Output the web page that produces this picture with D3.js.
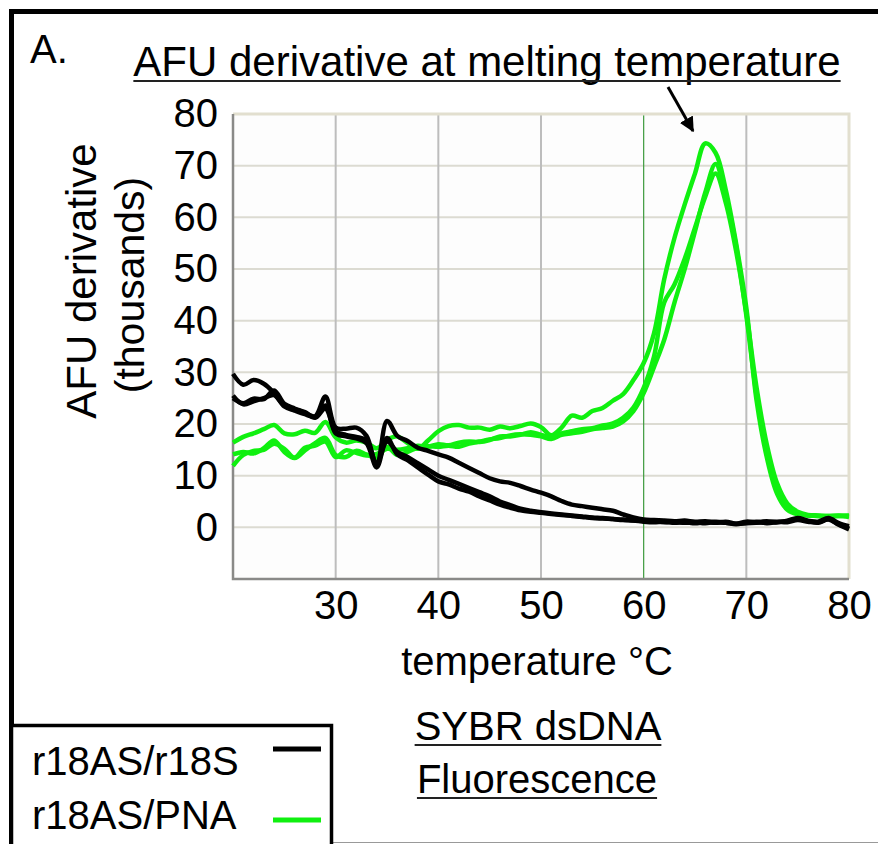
<!DOCTYPE html>
<html>
<head>
<meta charset="utf-8">
<script src="https://cdn.jsdelivr.net/npm/d3@7"></script>
<style>
  body { margin: 0; background: #fff; }
  text { font-family: "Liberation Sans", Arial, sans-serif; fill: #000; }
</style>
</head>
<body>
<div id="chart"></div>
<script>
// temperature samples (°C) shared by every trace
const temps = [20, 21, 22, 23, 24, 25, 26, 27, 28, 29, 30, 31, 32, 33, 34, 35, 36, 37, 38, 39,
  40, 41, 42, 43, 44, 45, 46, 47, 48, 49, 50, 51, 52, 53, 54, 55, 56, 57, 58, 59,
  60, 61, 62, 63, 64, 65, 66, 67, 68, 69, 70, 71, 72, 73, 74, 75, 76, 77, 78, 79, 80];

// r18AS/r18S (black) traces, AFU derivative in thousands
const r18S_1 = [29.7, 27.6, 28.5, 27.8, 26.0, 23.6, 22.9, 22.2, 21.5, 25.3, 19.3, 19.1, 19.3, 17.7, 11.9, 20.6, 17.7, 16.7, 15.4, 14.8,
  14.1, 13.5, 12.5, 11.5, 10.5, 9.5, 8.9, 8.6, 8.0, 7.3, 6.7, 6.0, 5.1, 4.4, 4.1, 3.8, 3.5, 3.2, 2.5, 1.9,
  1.5, 1.4, 1.3, 1.2, 1.3, 1.1, 1.2, 1.0, 0.9, 0.7, 1.1, 1.0, 1.2, 1.0, 1.3, 1.8, 1.3, 1.1, 1.8, 0.8, 0.2];
const r18S_2 = [25.5, 23.8, 24.4, 25.0, 25.6, 23.4, 22.6, 21.9, 21.4, 23.6, 18.2, 17.6, 17.2, 16.3, 11.6, 17.3, 14.1, 13.0, 11.6, 10.2,
  8.9, 8.3, 7.5, 6.9, 6.0, 5.2, 4.4, 3.8, 3.3, 3.0, 2.8, 2.6, 2.4, 2.2, 2.0, 1.8, 1.7, 1.6, 1.5, 1.3,
  1.2, 1.2, 1.0, 1.1, 0.9, 1.0, 0.8, 1.1, 0.9, 0.6, 0.9, 1.1, 0.8, 1.0, 1.2, 1.6, 1.2, 1.0, 1.6, 0.6, -0.2];
const r18S_3 = [25.0, 24.0, 24.9, 24.8, 26.5, 23.9, 23.0, 22.3, 21.2, 23.0, 18.6, 17.9, 17.5, 16.8, 12.4, 16.6, 14.6, 13.6, 12.4, 11.2,
  10.0, 9.2, 8.4, 7.6, 6.8, 6.0, 5.0, 4.3, 3.6, 3.2, 2.9, 2.7, 2.5, 2.3, 2.1, 1.9, 1.8, 1.6, 1.4, 1.3,
  1.1, 1.0, 1.1, 0.9, 1.0, 0.8, 1.0, 0.9, 1.1, 0.7, 0.8, 0.9, 1.0, 1.1, 1.0, 1.4, 1.1, 0.9, 1.5, 0.5, -0.4];

// r18AS/PNA (green) traces
const pna_1 = [16.4, 17.5, 18.2, 19.0, 19.8, 18.2, 18.0, 18.7, 18.3, 20.4, 17.4, 16.4, 16.8, 16.4, 15.3, 16.9, 17.6, 16.3, 15.2, 16.8,
  18.6, 19.6, 19.8, 19.3, 19.3, 18.9, 19.5, 19.2, 19.6, 20.1, 19.4, 17.8, 19.3, 21.6, 21.2, 22.5, 23.1, 24.5, 25.8, 28.5,
  31.8, 37.5, 48.0, 56.0, 62.5, 68.5, 74.3, 72.5, 65.3, 55.0, 42.5, 24.5, 13.5, 6.5, 3.4, 2.5, 2.3, 2.2, 2.2, 2.3, 2.2];
const pna_2 = [14.1, 14.6, 14.3, 15.3, 16.8, 14.6, 13.4, 14.9, 16.3, 17.3, 14.0, 13.6, 14.8, 14.1, 13.4, 15.6, 14.0, 14.6, 15.4, 15.7,
  15.6, 15.8, 15.6, 16.2, 16.6, 17.0, 17.3, 17.8, 18.0, 17.9, 17.6, 17.1, 17.9, 18.2, 18.5, 19.0, 19.2, 19.5, 20.5, 22.5,
  26.0, 31.0, 36.3, 43.5, 50.0, 57.3, 64.8, 70.3, 64.0, 54.5, 41.0, 25.5, 14.5, 7.5, 4.0, 2.7, 2.3, 2.2, 2.1, 2.2, 2.0];
const pna_3 = [11.9, 14.0, 14.8, 15.0, 16.2, 15.2, 13.5, 15.4, 15.8, 16.6, 13.6, 14.9, 14.4, 13.9, 14.2, 15.2, 15.0, 15.3, 15.8, 15.6,
  16.1, 15.9, 16.4, 16.6, 16.5, 16.9, 17.6, 17.6, 17.9, 18.4, 17.9, 17.5, 18.2, 18.6, 19.0, 19.2, 19.7, 20.1, 21.2, 23.2,
  27.0, 33.0, 43.5, 47.0, 52.0, 58.0, 64.0, 68.5, 62.8, 53.5, 41.5, 27.0, 16.0, 8.5, 4.6, 3.0, 2.4, 2.3, 2.2, 2.2, 2.3];

const xTicks = [30, 40, 50, 60, 70, 80];
const yTicks = [0, 10, 20, 30, 40, 50, 60, 70, 80];
const markerTemp = 60;

const W = 878, H = 844;
const plot = { left: 233, right: 849, top: 114, bottom: 579 };

const svg = d3.select("#chart").append("svg")
  .attr("width", W).attr("height", H);

// outer frame
svg.append("path")
  .attr("d", "M11.5,844 L11.5,11.5 L878,11.5")
  .attr("fill", "none").attr("stroke", "#000").attr("stroke-width", 5);

const x = d3.scaleLinear().domain([20, 80]).range([plot.left, plot.right]);
const y = d3.scaleLinear().domain([-10, 80]).range([plot.bottom, plot.top]);

// plot background
svg.append("rect")
  .attr("x", plot.left).attr("y", plot.top)
  .attr("width", plot.right - plot.left).attr("height", plot.bottom - plot.top)
  .attr("fill", "#fdfdfd");

// grid
svg.append("g").selectAll("line").data(yTicks.slice(0, -1)).join("line")
  .attr("x1", plot.left).attr("x2", plot.right)
  .attr("y1", d => y(d)).attr("y2", d => y(d))
  .attr("stroke", "#dcdbd2").attr("stroke-width", 2);
svg.append("g").selectAll("line").data(xTicks.filter(d => d < 80 && d !== markerTemp)).join("line")
  .attr("x1", d => x(d)).attr("x2", d => x(d))
  .attr("y1", plot.top).attr("y2", plot.bottom)
  .attr("stroke", "#bdbdbd").attr("stroke-width", 2);
svg.append("line")
  .attr("x1", x(markerTemp)).attr("x2", x(markerTemp))
  .attr("y1", plot.top).attr("y2", plot.bottom)
  .attr("stroke", "#3c9a3c").attr("stroke-width", 1.2);

// plot border: top/right beige, left/bottom gray
svg.append("path")
  .attr("d", `M${plot.left},${plot.top} L${plot.right},${plot.top} L${plot.right},${plot.bottom}`)
  .attr("fill", "none").attr("stroke", "#e2dfcf").attr("stroke-width", 3);
svg.append("path")
  .attr("d", `M${plot.left},${plot.top} L${plot.left},${plot.bottom} L${plot.right},${plot.bottom}`)
  .attr("fill", "none").attr("stroke", "#8a8a88").attr("stroke-width", 2.5);

// axes (labels only)
svg.append("g")
  .attr("transform", `translate(${plot.left},0)`)
  .style("font-size", "40px")
  .call(d3.axisLeft(y).tickValues(yTicks).tickSize(0).tickPadding(15))
  .call(g => g.select(".domain").remove())
  .selectAll("text").style("font-family", "Liberation Sans, Arial, sans-serif").attr("fill", "#000");

svg.append("g")
  .attr("transform", `translate(0,${plot.bottom})`)
  .style("font-size", "40px")
  .call(d3.axisBottom(x).tickValues(xTicks).tickSize(0).tickPadding(12))
  .call(g => g.select(".domain").remove())
  .selectAll("text").style("font-family", "Liberation Sans, Arial, sans-serif").attr("fill", "#000");

// traces
const line = d3.line()
  .x((d, i) => x(temps[i]))
  .y(d => y(d))
  .curve(d3.curveCatmullRom.alpha(0.5));

const series = [
  { values: pna_1, color: "#10f010" },
  { values: pna_2, color: "#10f010" },
  { values: pna_3, color: "#10f010" },
  { values: r18S_1, color: "#000" },
  { values: r18S_2, color: "#000" },
  { values: r18S_3, color: "#000" },
];
svg.append("g").selectAll("path").data(series).join("path")
  .attr("d", d => line(d.values))
  .attr("fill", "none")
  .attr("stroke", d => d.color)
  .attr("stroke-width", 4.5)
  .attr("stroke-linejoin", "round");

// titles
svg.append("text").attr("x", 30).attr("y", 63).style("font-size", "40px").text("A.");

function underlined(txt, cx, base, size) {
  const t = svg.append("text")
    .attr("x", cx).attr("y", base)
    .attr("text-anchor", "middle")
    .style("font-size", size + "px")
    .text(txt);
  const w = t.node().getComputedTextLength();
  svg.append("line")
    .attr("x1", cx - w / 2).attr("x2", cx + w / 2)
    .attr("y1", base + 5).attr("y2", base + 5)
    .attr("stroke", "#222").attr("stroke-width", 2);
}
underlined("AFU derivative at melting temperature", 487, 76, 42);
underlined("SYBR dsDNA", 538, 740, 40);
underlined("Fluorescence", 537, 793, 40);

svg.append("text")
  .attr("text-anchor", "middle")
  .attr("transform", "translate(96,281) rotate(-90)")
  .style("font-size", "42px")
  .text("AFU derivative");
svg.append("text")
  .attr("text-anchor", "middle")
  .attr("transform", "translate(144,285) rotate(-90)")
  .style("font-size", "41px")
  .text("(thousands)");

svg.append("text")
  .attr("x", 537).attr("y", 675)
  .attr("text-anchor", "middle")
  .style("font-size", "40px")
  .text("temperature °C");

// arrow to the peak
svg.append("defs").append("marker")
  .attr("id", "head").attr("viewBox", "0 0 10 10")
  .attr("refX", 9).attr("refY", 5)
  .attr("markerWidth", 5).attr("markerHeight", 5)
  .attr("orient", "auto")
  .append("path").attr("d", "M0,0 L10,5 L0,10 Z").attr("fill", "#000");
svg.append("line")
  .attr("x1", 668).attr("y1", 87).attr("x2", 693).attr("y2", 131)
  .attr("stroke", "#000").attr("stroke-width", 3)
  .attr("marker-end", "url(#head)");

// legend
svg.append("line").attr("x1", 332).attr("x2", W).attr("y1", 842.5).attr("y2", 842.5)
  .attr("stroke", "#999").attr("stroke-width", 1);
svg.append("rect")
  .attr("x", 11.5).attr("y", 725.5).attr("width", 320).attr("height", 130)
  .attr("fill", "#fff").attr("stroke", "#000").attr("stroke-width", 3.5);

const legendItems = [
  { label: "r18AS/r18S", color: "#000", base: 775, ly: 749 },
  { label: "r18AS/PNA", color: "#10f010", base: 829, ly: 820 },
];
legendItems.forEach(d => {
  svg.append("text").attr("x", 32).attr("y", d.base).style("font-size", "40px").text(d.label);
  svg.append("line").attr("x1", 273).attr("x2", 321).attr("y1", d.ly).attr("y2", d.ly)
    .attr("stroke", d.color).attr("stroke-width", 5);
});
</script>
</body>
</html>
